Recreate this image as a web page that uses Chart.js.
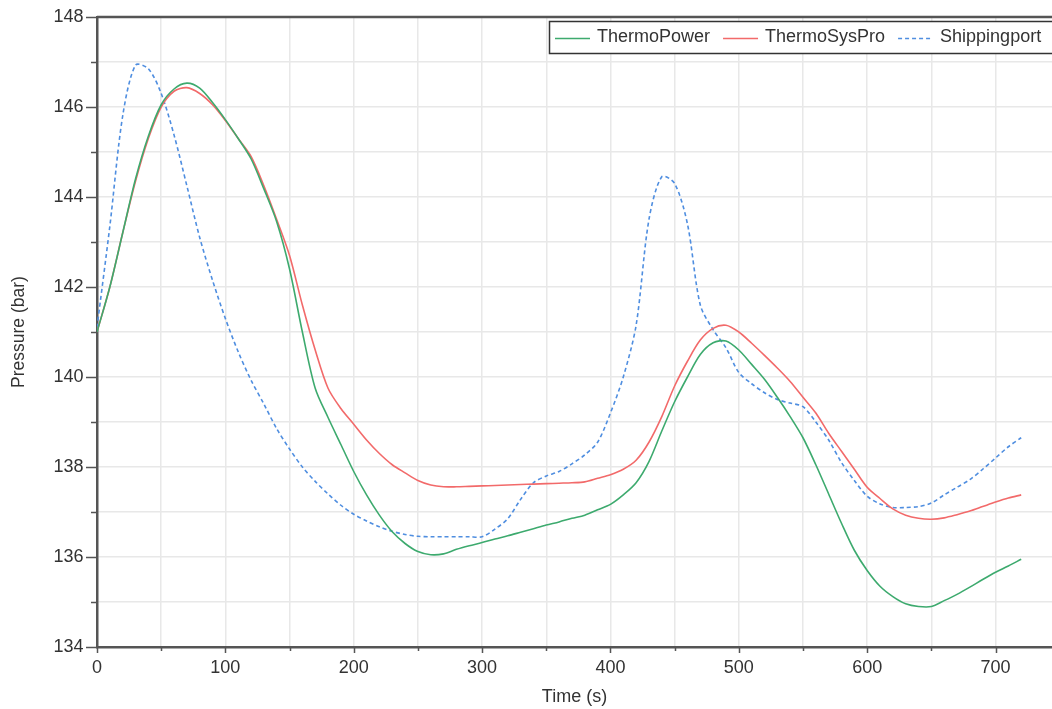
<!DOCTYPE html>
<html>
<head>
<meta charset="utf-8">
<script src="https://cdn.jsdelivr.net/npm/chart.js@4.4.0/dist/chart.umd.min.js"></script>
<style>
  html, body { margin: 0; padding: 0; background: #fff; }
  #wrap { width: 1052px; height: 709px; overflow: hidden; }
</style>
</head>
<body>
<div id="wrap"><canvas id="pressureChart" width="1052" height="709"></canvas></div>
<script>
// time grid (s)
const times = [
  0, 10, 20, 30, 40, 50, 60, 70, 80, 90,
  100, 110, 120, 130, 140, 150, 160, 170, 180, 190,
  200, 210, 220, 230, 240, 250, 260, 270, 280, 290,
  300, 310, 320, 330, 340, 350, 360, 370, 380, 390,
  400, 410, 420, 430, 440, 450, 460, 470, 480, 490,
  500, 510, 520, 530, 540, 550, 560, 570, 580, 590,
  600, 610, 620, 630, 640, 650, 660, 670, 680, 690,
  700, 710, 720
];

// pressure (bar)
const thermoPower = [
  141.0, 142.0, 143.2, 144.4, 145.35, 146.05, 146.4, 146.53, 146.42, 146.1,
  145.72, 145.3, 144.85, 144.18, 143.45, 142.4, 141.0, 139.75, 139.1, 138.5,
  137.9, 137.38, 136.93, 136.56, 136.3, 136.12, 136.05, 136.07, 136.17, 136.25,
  136.32, 136.4, 136.47, 136.55, 136.63, 136.71, 136.78, 136.86, 136.93, 137.05,
  137.17, 137.38, 137.65, 138.12, 138.8, 139.45, 140.0, 140.5, 140.76, 140.8,
  140.6, 140.28, 139.95, 139.55, 139.12, 138.65, 138.05, 137.4, 136.75, 136.15,
  135.7, 135.35, 135.12, 134.96, 134.9, 134.9, 135.03, 135.17, 135.33, 135.5,
  135.66, 135.8, 135.95
];

const thermoSysPro = [
  141.0, 142.0, 143.2, 144.35, 145.3, 146.0, 146.35, 146.43, 146.3, 146.05,
  145.7, 145.3, 144.9, 144.25, 143.5, 142.7, 141.6, 140.6, 139.75, 139.3,
  138.95, 138.6, 138.3, 138.05, 137.87, 137.7, 137.6, 137.56, 137.56, 137.57,
  137.58, 137.59, 137.6, 137.61, 137.62, 137.63, 137.64, 137.65, 137.67, 137.75,
  137.83, 137.95, 138.15, 138.55, 139.12, 139.8, 140.35, 140.82, 141.08, 141.15,
  141.0, 140.75, 140.48, 140.2, 139.9, 139.55, 139.2, 138.75, 138.35, 137.95,
  137.55, 137.3, 137.07, 136.93, 136.86, 136.84, 136.87, 136.94, 137.02, 137.12,
  137.22, 137.31, 137.38
];

const shippingport = [
  141.1, 143.35, 145.8, 146.93, 146.85, 146.3, 145.38, 144.25, 143.1, 142.15,
  141.3, 140.56, 139.93, 139.4, 138.85, 138.4, 138.0, 137.68, 137.4, 137.15,
  136.95, 136.8, 136.67, 136.57, 136.5, 136.46, 136.45, 136.45, 136.45, 136.45,
  136.45, 136.62, 136.85, 137.28, 137.65, 137.8, 137.9, 138.07, 138.27, 138.55,
  139.2, 140.0, 141.15, 143.5, 144.45, 144.3, 143.4, 141.6, 141.05, 140.65,
  140.1, 139.85, 139.65, 139.5, 139.42, 139.34, 139.0, 138.6, 138.1, 137.7,
  137.35, 137.18, 137.1, 137.1, 137.12, 137.2, 137.38, 137.55, 137.72, 137.95,
  138.2, 138.45, 138.65
];

const seriesNames = ['ThermoPower', 'ThermoSysPro', 'Shippingport'];

const FONT = 'Arial, "Liberation Sans", sans-serif';
const AXIS = '#555555';

const toPoints = (vals) => vals.map((v, i) => ({ x: times[i], y: v }));

// short/long tick marks drawn outside the plot area
const tickMarks = {
  id: 'tickMarks',
  afterDraw(chart) {
    const { ctx, chartArea } = chart;
    const xs = chart.scales.x, ys = chart.scales.y;
    ctx.save();
    ctx.strokeStyle = AXIS;
    ctx.lineWidth = 1.5;
    ctx.beginPath();
    xs.ticks.forEach((t) => {
      const px = Math.round(xs.getPixelForValue(t.value)) + 0.5;
      const len = t.value % 100 === 0 ? 6 : 4;
      ctx.moveTo(px, chartArea.bottom);
      ctx.lineTo(px, chartArea.bottom + len);
    });
    ys.ticks.forEach((t) => {
      const py = Math.round(ys.getPixelForValue(t.value)) + 0.5;
      const len = t.value % 2 === 0 ? 11 : 6;
      ctx.moveTo(chartArea.left - len, py);
      ctx.lineTo(chartArea.left, py);
    });
    ctx.stroke();

    // top frame line
    ctx.lineWidth = 2.5;
    ctx.beginPath();
    ctx.moveTo(chartArea.left, chartArea.top);
    ctx.lineTo(chartArea.right + 2, chartArea.top);
    ctx.stroke();
    ctx.restore();
  }
};

// boxed legend inside the plot, top right
const boxLegend = {
  id: 'boxLegend',
  afterDraw(chart) {
    const { ctx, chartArea } = chart;
    const left = chartArea.right - 503;
    const top = chartArea.top + 4;
    const h = 32;
    ctx.save();
    ctx.fillStyle = '#fff';
    ctx.fillRect(left, top, chartArea.right - left + 10, h);
    ctx.strokeStyle = '#333';
    ctx.lineWidth = 1.5;
    ctx.strokeRect(left + 0.5, top + 0.5, chartArea.right - left + 10, h);

    ctx.font = '18px ' + FONT;
    ctx.textBaseline = 'middle';
    ctx.textAlign = 'left';
    const cy = top + h / 2 + 0.5;
    let x = left + 6;
    chart.data.datasets.forEach((ds) => {
      ctx.strokeStyle = ds.borderColor;
      ctx.lineWidth = ds.borderWidth;
      ctx.setLineDash(ds.borderDash || []);
      ctx.beginPath();
      ctx.moveTo(x, Math.round(cy) + 0.5);
      ctx.lineTo(x + 35, Math.round(cy) + 0.5);
      ctx.stroke();
      ctx.setLineDash([]);
      ctx.fillStyle = '#333';
      ctx.fillText(ds.label, x + 42, cy);
      x += 42 + ctx.measureText(ds.label).width + 13;
    });
    ctx.restore();
  }
};

const ctx = document.getElementById('pressureChart').getContext('2d');
new Chart(ctx, {
  type: 'line',
  data: {
    datasets: [
      {
        label: seriesNames[0],
        data: toPoints(thermoPower),
        borderColor: '#3daa6e',
        borderWidth: 1.6,
      },
      {
        label: seriesNames[1],
        data: toPoints(thermoSysPro),
        borderColor: '#f26a6a',
        borderWidth: 1.6,
      },
      {
        label: seriesNames[2],
        data: toPoints(shippingport),
        borderColor: '#4f8ee0',
        borderWidth: 1.6,
        borderDash: [4, 3],
      },
    ],
  },
  options: {
    responsive: false,
    animation: false,
    events: [],
    layout: { padding: { top: 17, right: 0, left: 0, bottom: 0 } },
    elements: {
      point: { radius: 0 },
      line: { tension: 0.3, fill: false },
    },
    plugins: {
      legend: { display: false },
      tooltip: { enabled: false },
    },
    scales: {
      x: {
        type: 'linear',
        min: 0,
        max: 744,
        afterFit: (scale) => {
          scale.height = 62;
          scale.paddingLeft = 0;
          scale.paddingRight = 0;
        },
        ticks: {
          stepSize: 50,
          includeBounds: false,
          maxRotation: 0,
          autoSkip: false,
          padding: 10,
          color: '#333',
          font: { family: FONT, size: 18 },
          callback: (v) => (v % 100 === 0 ? v : ''),
        },
        grid: { color: '#e8e8e8', lineWidth: 1.5, drawTicks: false },
        border: { color: AXIS, width: 2.5 },
        title: {
          display: true,
          text: 'Time (s)',
          color: '#333',
          font: { family: FONT, size: 18 },
          padding: { top: 0, bottom: 1.5 },
        },
      },
      y: {
        min: 134,
        max: 148,
        afterFit: (scale) => {
          scale.width = 97;
          scale.paddingTop = 0;
          scale.paddingBottom = 0;
        },
        ticks: {
          stepSize: 1,
          includeBounds: false,
          autoSkip: false,
          padding: 13.5,
          color: '#333',
          font: { family: FONT, size: 18 },
          callback: (v) => (v % 2 === 0 ? v : ''),
        },
        grid: { color: '#e8e8e8', lineWidth: 1.5, drawTicks: false },
        border: { color: AXIS, width: 2.5 },
        title: {
          display: true,
          text: 'Pressure (bar)',
          color: '#333',
          font: { family: FONT, size: 17.5 },
          padding: { top: 9, bottom: 0 },
        },
      },
    },
  },
  plugins: [tickMarks, boxLegend],
});
</script>
</body>
</html>
